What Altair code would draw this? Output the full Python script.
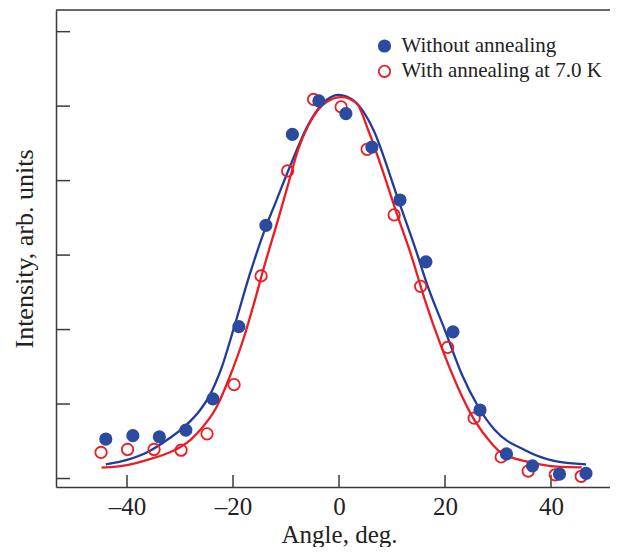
import altair as alt
import pandas as pd

# ---------------- data ----------------
series_names = ["Without annealing", "With annealing at 7.0 K"]

x_ticks = [-40, -20, 0, 20, 40]
y_ticks = [0, 1, 2, 3, 4, 5, 6]

blue_x = [-44.0, -38.9, -33.9, -28.9, -23.8, -18.9, -13.8, -8.8, -3.8, 1.3,
          6.2, 11.5, 16.4, 21.5, 26.6, 31.6, 36.5, 41.6, 46.6]
blue_y = [0.53, 0.575, 0.56, 0.65, 1.07, 2.04, 3.40, 4.62, 5.07, 4.90,
          4.45, 3.74, 2.91, 1.97, 0.92, 0.33, 0.17, 0.06, 0.07]

red_x = [-44.9, -39.9, -34.9, -29.8, -24.9, -19.8, -14.7, -9.7, -4.8, 0.4,
         5.3, 10.4, 15.4, 20.5, 25.5, 30.6, 35.7, 40.8, 45.7]
red_y = [0.35, 0.39, 0.39, 0.38, 0.60, 1.26, 2.72, 4.13, 5.09, 4.99,
         4.42, 3.54, 2.58, 1.76, 0.81, 0.29, 0.10, 0.05, 0.03]

blue_curve_x = [-44.0, -40.0, -36.0, -32.0, -29.1, -26.2, -24.7, -22.1, -19.8, -16.8,
                -13.7, -12.4, -9.2, -6.1, -3.0, -0.1, 3.0, 6.5, 10.2, 11.2,
                14.3, 16.8, 20.0, 23.1, 26.3, 29.4, 35.1, 40.4, 46.6]
blue_curve_y = [0.19, 0.25, 0.36, 0.54, 0.70, 0.92, 1.08, 1.50, 2.03, 2.75,
                3.40, 3.63, 4.20, 4.71, 5.04, 5.15, 5.06, 4.68, 3.95, 3.74,
                3.11, 2.57, 1.99, 1.41, 0.96, 0.65, 0.38, 0.24, 0.19]

red_curve_x = [-44.8, -40.0, -35.7, -32.0, -30.0, -28.0, -26.2, -23.1, -20.6, -18.1,
               -15.5, -14.7, -11.2, -9.6, -7.7, -5.8, -2.3, 0.5, 3.3, 5.5,
               9.0, 10.6, 13.7, 16.2, 19.3, 22.4, 25.5, 28.8, 30.7, 36.0,
               41.1, 45.8]
red_curve_y = [0.145, 0.18, 0.26, 0.35, 0.42, 0.52, 0.65, 0.96, 1.37, 1.86,
               2.49, 2.70, 3.55, 3.95, 4.42, 4.74, 5.06, 5.12, 5.04, 4.68,
               3.97, 3.62, 2.98, 2.40, 1.77, 1.23, 0.79, 0.47, 0.34, 0.22,
               0.16, 0.15]

# ---------------- tables ----------------
points = pd.concat([
    pd.DataFrame({"angle": red_x, "intensity": red_y, "series": series_names[1]}),
    pd.DataFrame({"angle": blue_x, "intensity": blue_y, "series": series_names[0]}),
], ignore_index=True)

blue_curve = pd.DataFrame({"angle": blue_curve_x, "intensity": blue_curve_y})
red_curve = pd.DataFrame({"angle": red_curve_x, "intensity": red_curve_y})
xt = pd.DataFrame({"angle": x_ticks})
yt = pd.DataFrame({"intensity": y_ticks})

# ---------------- styling ----------------
W, H = 554, 477
BLUE_DOT = "#2c4a9f"
BLUE_LINE = "#1f3c98"
RED = "#ec1c24"
AXIS = "#3a3a3a"
TXT = "#222222"
FONT = "Liberation Serif"

xscale = alt.Scale(domain=[-53.4, 51.13], nice=False, zero=False)
yscale = alt.Scale(domain=[-0.114, 6.291], nice=False, zero=False)

x_axis = alt.Axis(
    values=x_ticks, tickSize=0, grid=False, labelPadding=7,
    labelFont=FONT, labelFontSize=25, labelColor=TXT,
    labelExpr="datum.value < 0 ? '\u2013' + format(-datum.value, 'd') : format(datum.value, 'd')",
    domainColor=AXIS, domainWidth=1.5,
    title="Angle, deg.", titleFont=FONT, titleFontSize=25, titleFontWeight="normal",
    titleColor=TXT, titleX=283, titleY=55, titleBaseline="alphabetic", titleAlign="center",
)
y_axis = alt.Axis(
    values=y_ticks, labels=False, ticks=False, grid=False,
    domainColor=AXIS, domainWidth=1.5,
    title="Intensity, arb. units", titleFont=FONT, titleFontSize=26, titleFontWeight="normal",
    titleColor=TXT, titleX=-24, titleY=238.5, titleAngle=270,
    titleBaseline="alphabetic", titleAlign="center",
)

X = alt.X("angle:Q", scale=xscale, axis=x_axis)
Y = alt.Y("intensity:Q", scale=yscale, axis=y_axis)

legend = alt.Legend(
    title=None, orient="none", legendX=318, legendY=25.5, padding=0,
    labelFont=FONT, labelFontSize=21, labelColor=TXT, labelOffset=6.5, labelLimit=0,
    rowPadding=3.3, symbolSize=130, symbolStrokeWidth=1.8, symbolType="circle",
)

blue_line = alt.Chart(blue_curve).mark_line(
    strokeWidth=2.3, interpolate="monotone", color=BLUE_LINE
).encode(x=X, y=Y)

red_line = alt.Chart(red_curve).mark_line(
    strokeWidth=2.3, interpolate="monotone", color=RED
).encode(x=X, y=Y)

pts = alt.Chart(points).mark_point(size=130, strokeWidth=1.8, opacity=1).encode(
    x=X, y=Y,
    fill=alt.Fill("series:N", sort=None,
                  scale=alt.Scale(domain=series_names, range=[BLUE_DOT, "transparent"]),
                  legend=legend),
    stroke=alt.Stroke("series:N", sort=None,
                      scale=alt.Scale(domain=series_names, range=[BLUE_DOT, RED]),
                      legend=legend),
)

xtick_marks = alt.Chart(xt).mark_rule(color=AXIS, strokeWidth=1.5).encode(
    x=X, y=alt.value(H - 12), y2=alt.value(H)
)
ytick_marks = alt.Chart(yt).mark_rule(color=AXIS, strokeWidth=1.5).encode(
    y=Y, x=alt.value(0), x2=alt.value(14)
)
top_frame = alt.Chart(pd.DataFrame({"k": [0]})).mark_rule(color=AXIS, strokeWidth=1.5).encode(
    x=alt.value(0), x2=alt.value(W + 10), y=alt.value(0)
)

chart = alt.layer(
    xtick_marks, ytick_marks, top_frame, blue_line, red_line, pts
).properties(
    width=W, height=H,
    autosize=alt.AutoSizeParams(type="none"),
    padding={"left": 48, "top": 2, "right": 0, "bottom": 60},
).configure_view(stroke=None).configure(background="white")

chart.save("out.html", embed_options={"renderer": "svg", "actions": False})
